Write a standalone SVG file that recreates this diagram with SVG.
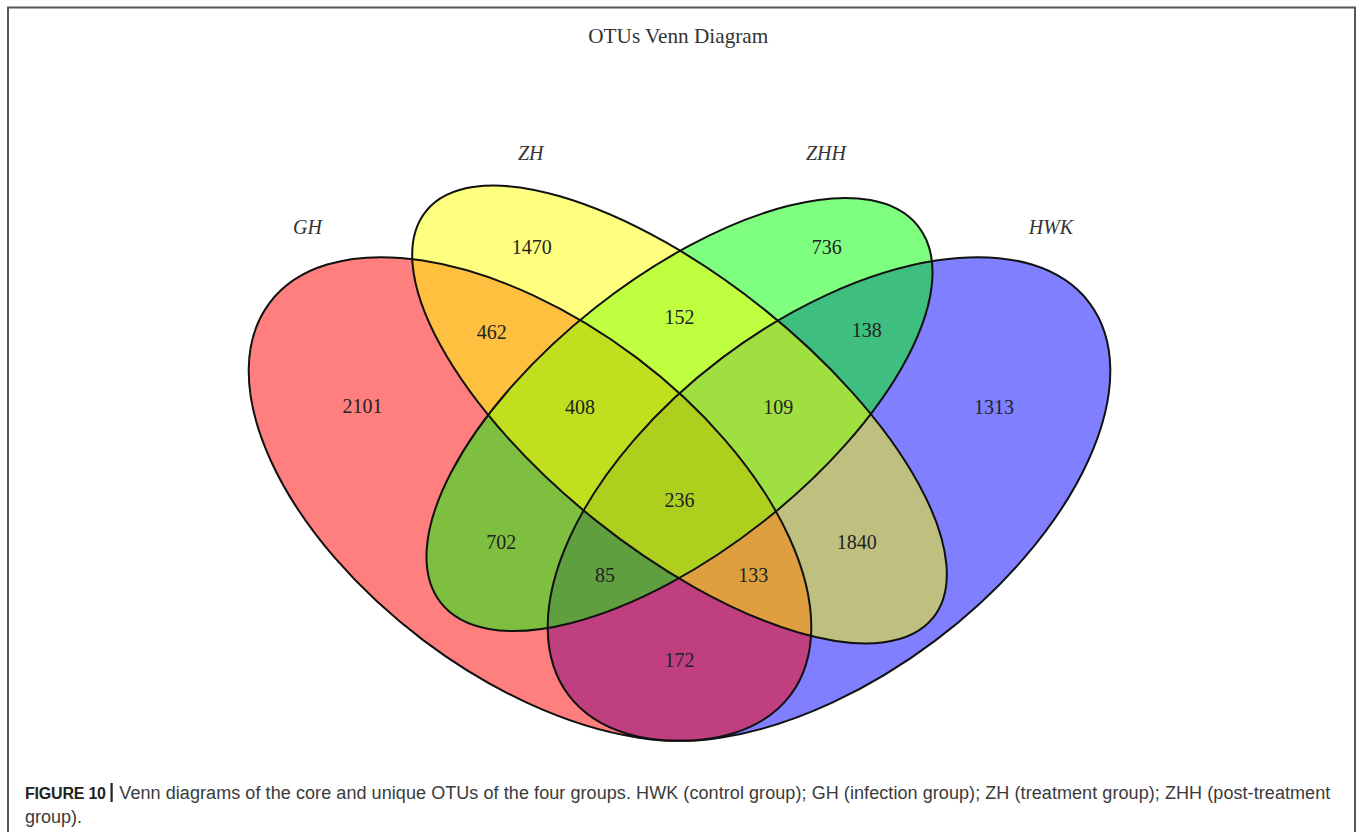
<svg xmlns="http://www.w3.org/2000/svg" width="1360" height="832" viewBox="0 0 1360 832">
  <style>
    .fill { stroke: none; fill-opacity: 0.5; }
    .outline { fill: none; stroke: #111; stroke-width: 2; }
    .count { font-family: "Liberation Serif", "Times New Roman", serif; font-size: 20px; fill: #222; text-anchor: middle; }
    .setlabel { font-family: "Liberation Serif", "Times New Roman", serif; font-size: 20px; font-style: italic; fill: #333; text-anchor: middle; }
    .title { font-family: "Liberation Serif", "Times New Roman", serif; font-size: 21px; fill: #333; text-anchor: middle; }
    .cap { font-family: "Liberation Sans", Arial, sans-serif; font-size: 18px; fill: #3a3a3a; }
    .capb { font-family: "Liberation Sans", Arial, sans-serif; font-size: 16px; font-weight: bold; fill: #222; }
  </style>
  <defs>
    <ellipse id="e-gh" cx="530" cy="499" rx="326" ry="177" transform="rotate(37 530 499)"/>
    <ellipse id="e-hwk" cx="829" cy="499" rx="326" ry="177" transform="rotate(-37 829 499)"/>
    <ellipse id="e-zh" cx="679.5" cy="414.5" rx="325" ry="135" transform="rotate(38.7 679.5 414.5)"/>
    <ellipse id="e-zhh" cx="679.5" cy="414.5" rx="304" ry="136" transform="rotate(-38.3 679.5 414.5)"/>
  </defs>

  <rect x="8" y="7.5" width="1347" height="840" fill="none" stroke="#555" stroke-width="2"/>

  <text class="title" x="678.3" y="42.5" textLength="180" lengthAdjust="spacingAndGlyphs">OTUs Venn Diagram</text>

  <g id="set-HWK">
    <use href="#e-hwk" class="fill" fill="#0000ff"/>
    <text class="setlabel" x="1051" y="233.5">HWK</text>
  </g>
  <g id="set-GH">
    <use href="#e-gh" class="fill" fill="#ff0000"/>
    <text class="setlabel" x="307.5" y="233.5">GH</text>
  </g>
  <g id="set-ZHH">
    <use href="#e-zhh" class="fill" fill="#00ff00"/>
    <text class="setlabel" x="826" y="160">ZHH</text>
  </g>
  <g id="set-ZH">
    <use href="#e-zh" class="fill" fill="#ffff00"/>
    <text class="setlabel" x="530.7" y="160">ZH</text>
  </g>

  <g id="outlines">
    <use href="#e-hwk" class="outline"/>
    <use href="#e-gh" class="outline"/>
    <use href="#e-zhh" class="outline"/>
    <use href="#e-zh" class="outline"/>
  </g>

  <g id="counts">
    <text class="count" x="362.5" y="413">2101</text>
    <text class="count" x="531.7" y="253.5">1470</text>
    <text class="count" x="491.7" y="338.5">462</text>
    <text class="count" x="580" y="413.5">408</text>
    <text class="count" x="826.7" y="253.5">736</text>
    <text class="count" x="866.7" y="337">138</text>
    <text class="count" x="778.3" y="413.5">109</text>
    <text class="count" x="994" y="413.5">1313</text>
    <text class="count" x="679.5" y="323.5">152</text>
    <text class="count" x="679.5" y="507">236</text>
    <text class="count" x="501.3" y="548.7">702</text>
    <text class="count" x="856.7" y="548.7">1840</text>
    <text class="count" x="605" y="582">85</text>
    <text class="count" x="753.3" y="582">133</text>
    <text class="count" x="679.5" y="667">172</text>
  </g>

  <g id="caption">
    <text class="capb" x="25" y="798.5" textLength="81">FIGURE 10</text>
    <rect x="110.5" y="783" width="2.2" height="19" fill="#222"/>
    <text class="cap" x="119.3" y="798.5" textLength="1211">Venn diagrams of the core and unique OTUs of the four groups. HWK (control group); GH (infection group); ZH (treatment group); ZHH (post-treatment</text>
    <text class="cap" x="25" y="823">group).</text>
  </g>
</svg>
